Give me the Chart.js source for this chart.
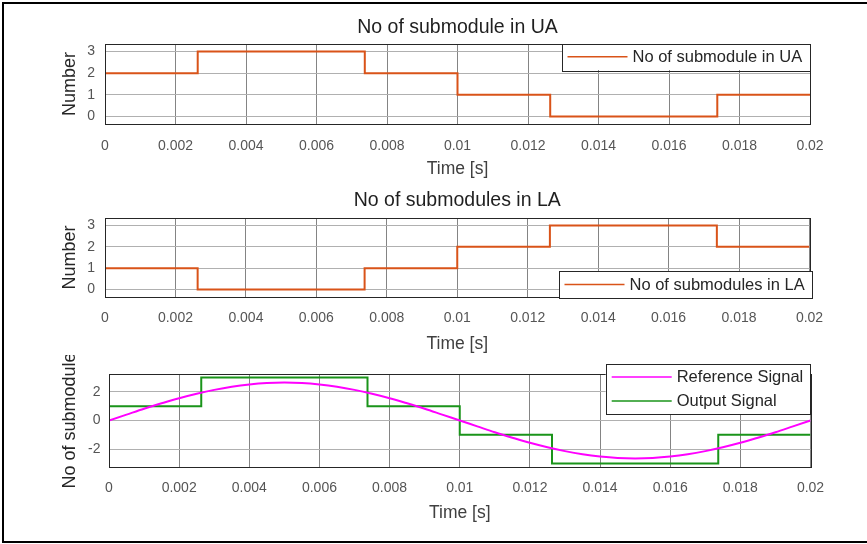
<!DOCTYPE html>
<html><head><meta charset="utf-8">
<script src="https://cdn.jsdelivr.net/npm/chart.js@4/dist/chart.umd.min.js"></script>
<style>
html,body{margin:0;padding:0;background:#fff;}
#fig{position:relative;width:867px;height:544px;overflow:hidden;background:#fff;}
.cv{position:absolute;left:0;}
#frame{position:absolute;left:2px;top:2px;width:900px;height:541px;border-left:2px solid #000;border-top:2px solid #000;border-bottom:2px solid #000;box-sizing:border-box;pointer-events:none;}
</style></head>
<body>
<div id="fig">
  <canvas id="c1" class="cv" width="867" height="180" style="top:0px"></canvas>
  <canvas id="c2" class="cv" width="867" height="175" style="top:180px"></canvas>
  <canvas id="c3" class="cv" width="867" height="189" style="top:355px"></canvas>
  <div id="frame"></div>
</div>
<script>
// ---- data ----
const timeTicks = [0, 0.002, 0.004, 0.006, 0.008, 0.01, 0.012, 0.014, 0.016, 0.018, 0.02];
const countTicks = [0, 1, 2, 3];
const signalTicks = [-2, 0, 2];

const uaTimes  = [0, 0.00263, 0.00737, 0.01, 0.01263, 0.01737, 0.02];
const uaCounts = [2, 3, 2, 1, 0, 1, 1];

const laTimes  = [0, 0, 0.00263, 0.00737, 0.01, 0.01263, 0.01737, 0.02];
const laCounts = [2, 1, 0, 1, 2, 3, 2, 2];

const outTimes  = [0, 0, 0.00263, 0.00737, 0.01, 0.01263, 0.01737, 0.02];
const outLevels = [0, 1, 3, 1, -1, -3, -1, -1];

const refTimes = [0, 0.0005, 0.001, 0.0015, 0.002, 0.0025, 0.003, 0.0035, 0.004, 0.0045,
  0.005, 0.0055, 0.006, 0.0065, 0.007, 0.0075, 0.008, 0.0085, 0.009, 0.0095,
  0.01, 0.0105, 0.011, 0.0115, 0.012, 0.0125, 0.013, 0.0135, 0.014, 0.0145,
  0.015, 0.0155, 0.016, 0.0165, 0.017, 0.0175, 0.018, 0.0185, 0.019, 0.0195, 0.02];
const refValues = [0, 0.41, 0.82, 1.20, 1.56, 1.87, 2.14, 2.36, 2.52, 2.62,
  2.65, 2.62, 2.52, 2.36, 2.14, 1.87, 1.56, 1.20, 0.82, 0.41,
  0, -0.41, -0.82, -1.20, -1.56, -1.87, -2.14, -2.36, -2.52, -2.62,
  -2.65, -2.62, -2.52, -2.36, -2.14, -1.87, -1.56, -1.20, -0.82, -0.41, 0];

// ---- styling ----
const FONT = '"Liberation Sans", Arial, Helvetica, sans-serif';
const pts = (xs, ys) => xs.map((x, i) => ({x: x, y: ys[i]}));

const boxPlugin = {
  id: 'boxLegend',
  afterDatasetsDraw(chart, args, o) {
    const {ctx, chartArea: a} = chart;
    ctx.save();
    // axes box
    ctx.strokeStyle = '#262626';
    ctx.lineWidth = 1;
    ctx.strokeRect(Math.round(a.left) + 0.5, Math.round(a.top) + 0.5,
                   Math.round(a.right) - Math.round(a.left), Math.round(a.bottom) - Math.round(a.top));
    // title centred over the axes
    if (o.title) {
      ctx.font = '19.5px ' + FONT;
      ctx.fillStyle = '#1f1f1f';
      ctx.textAlign = 'center';
      ctx.textBaseline = 'middle';
      ctx.fillText(o.title, (a.left + a.right) / 2, o.titleY);
    }
    // legend
    const L = o.box;
    const n = chart.data.datasets.length;
    ctx.fillStyle = '#fff';
    ctx.fillRect(L.x, L.y, L.w, L.h);
    ctx.strokeStyle = '#262626';
    ctx.strokeRect(Math.round(L.x) + 0.5, Math.round(L.y) + 0.5, Math.round(L.w), Math.round(L.h));
    const pad = (L.h - n * o.rowH) / 2;
    ctx.font = o.fontSize + 'px ' + FONT;
    ctx.textBaseline = 'middle';
    ctx.textAlign = 'left';
    chart.data.datasets.forEach((ds, i) => {
      const cy = L.y + pad + (i + 0.5) * o.rowH;
      ctx.strokeStyle = ds.borderColor;
      ctx.lineWidth = 1.6;
      ctx.beginPath();
      ctx.moveTo(L.x + o.lineStart, cy);
      ctx.lineTo(L.x + o.lineStart + o.lineLen, cy);
      ctx.stroke();
      ctx.fillStyle = '#262626';
      ctx.fillText(ds.label, L.x + o.textStart, cy + 0.5);
    });
    ctx.restore();
  }
};

function makeChart(id, cfg) {
  const xScale = {
    type: 'linear', min: 0, max: 0.02,
    afterBuildTicks: s => { s.ticks = timeTicks.map(v => ({value: v})); },
    afterFit: s => { s.height = cfg.xHeight; },
    grid: {color: '#848484', lineWidth: 1, drawTicks: false},
    border: {display: false},
    ticks: {color: '#555', font: {family: FONT, size: 14}, padding: cfg.xTickPad, maxRotation: 0,
            callback: v => Number(v.toFixed(3)).toString()},
    title: {display: true, text: 'Time [s]', color: '#404040', font: {family: FONT, size: 17.5},
            padding: {top: 0, bottom: cfg.xTitlePad}}
  };
  const yScale = {
    type: 'linear', min: cfg.yMin, max: cfg.yMax,
    afterBuildTicks: s => { s.ticks = cfg.yTicks.map(v => ({value: v})); },
    afterFit: s => { s.width = cfg.yWidth; },
    grid: {color: '#b0b0b0', lineWidth: 1, drawTicks: false},
    border: {display: false},
    ticks: {color: '#555', font: {family: FONT, size: 14}, padding: cfg.yTickPad},
    title: {display: true, text: cfg.yLabel, color: '#262626', font: {family: FONT, size: 18},
            padding: {top: cfg.yTitlePad, bottom: 0}}
  };
  return new Chart(document.getElementById(id), {
    type: 'line',
    data: {datasets: cfg.datasets},
    plugins: [boxPlugin],
    options: {
      responsive: false, animation: false, events: [],
      layout: {padding: {left: 0, right: cfg.padRight, top: cfg.padTop, bottom: 0}},
      elements: {point: {radius: 0}},
      scales: {x: xScale, y: yScale},
      plugins: {
        legend: {display: false},
        tooltip: {enabled: false},
        title: {display: false},
        boxLegend: cfg.legend
      }
    }
  });
}

makeChart('c1', {
  padTop: 44,
  padRight: 57, yWidth: 105, xHeight: 56, xTickPad: 13.6, xTitlePad: 0.5,
  yMin: -0.35, yMax: 3.35, yTicks: countTicks, yLabel: 'Number', yTickPad: 10, yTitlePad: 59.5,
  datasets: [{label: 'No of submodule in UA', data: pts(uaTimes, uaCounts), stepped: true,
              borderColor: '#D95319', borderWidth: 2}],
  legend: {title: 'No of submodule in UA', titleY: 28,
           box: {x: 562, y: 43.5, w: 248, h: 26.5}, rowH: 24, fontSize: 16.5,
           lineStart: 5.5, lineLen: 60, textStart: 70.5}
});

makeChart('c2', {
  padTop: 38,
  padRight: 57.5, yWidth: 105, xHeight: 58, xTickPad: 12.6, xTitlePad: 0.5,
  yMin: -0.35, yMax: 3.35, yTicks: countTicks, yLabel: 'Number', yTickPad: 10, yTitlePad: 59.5,
  datasets: [{label: 'No of submodules in LA', data: pts(laTimes, laCounts), stepped: true,
              borderColor: '#D95319', borderWidth: 2}],
  legend: {title: 'No of submodules in LA', titleY: 21,
           box: {x: 559, y: 91, w: 252.5, h: 27}, rowH: 24, fontSize: 16.5,
           lineStart: 5.5, lineLen: 60, textStart: 70.5}
});

makeChart('c3', {
  padTop: 19,
  padRight: 56.5, yWidth: 109, xHeight: 77, xTickPad: 12.6, xTitlePad: 20.5,
  yMin: -3.25, yMax: 3.25, yTicks: signalTicks, yLabel: 'No of submodule', yTickPad: 8.5, yTitlePad: 59,
  datasets: [
    {label: 'Reference Signal', data: pts(refTimes, refValues), borderColor: '#FF00FF', borderWidth: 2,
     cubicInterpolationMode: 'monotone'},
    {label: 'Output Signal', data: pts(outTimes, outLevels), stepped: true,
     borderColor: '#1a941a', borderWidth: 2}
  ],
  legend: {title: null, box: {x: 605.7, y: 9, w: 204.3, h: 50}, rowH: 24, fontSize: 16.5,
           lineStart: 6, lineLen: 60, textStart: 71}
});
</script>
</body></html>
